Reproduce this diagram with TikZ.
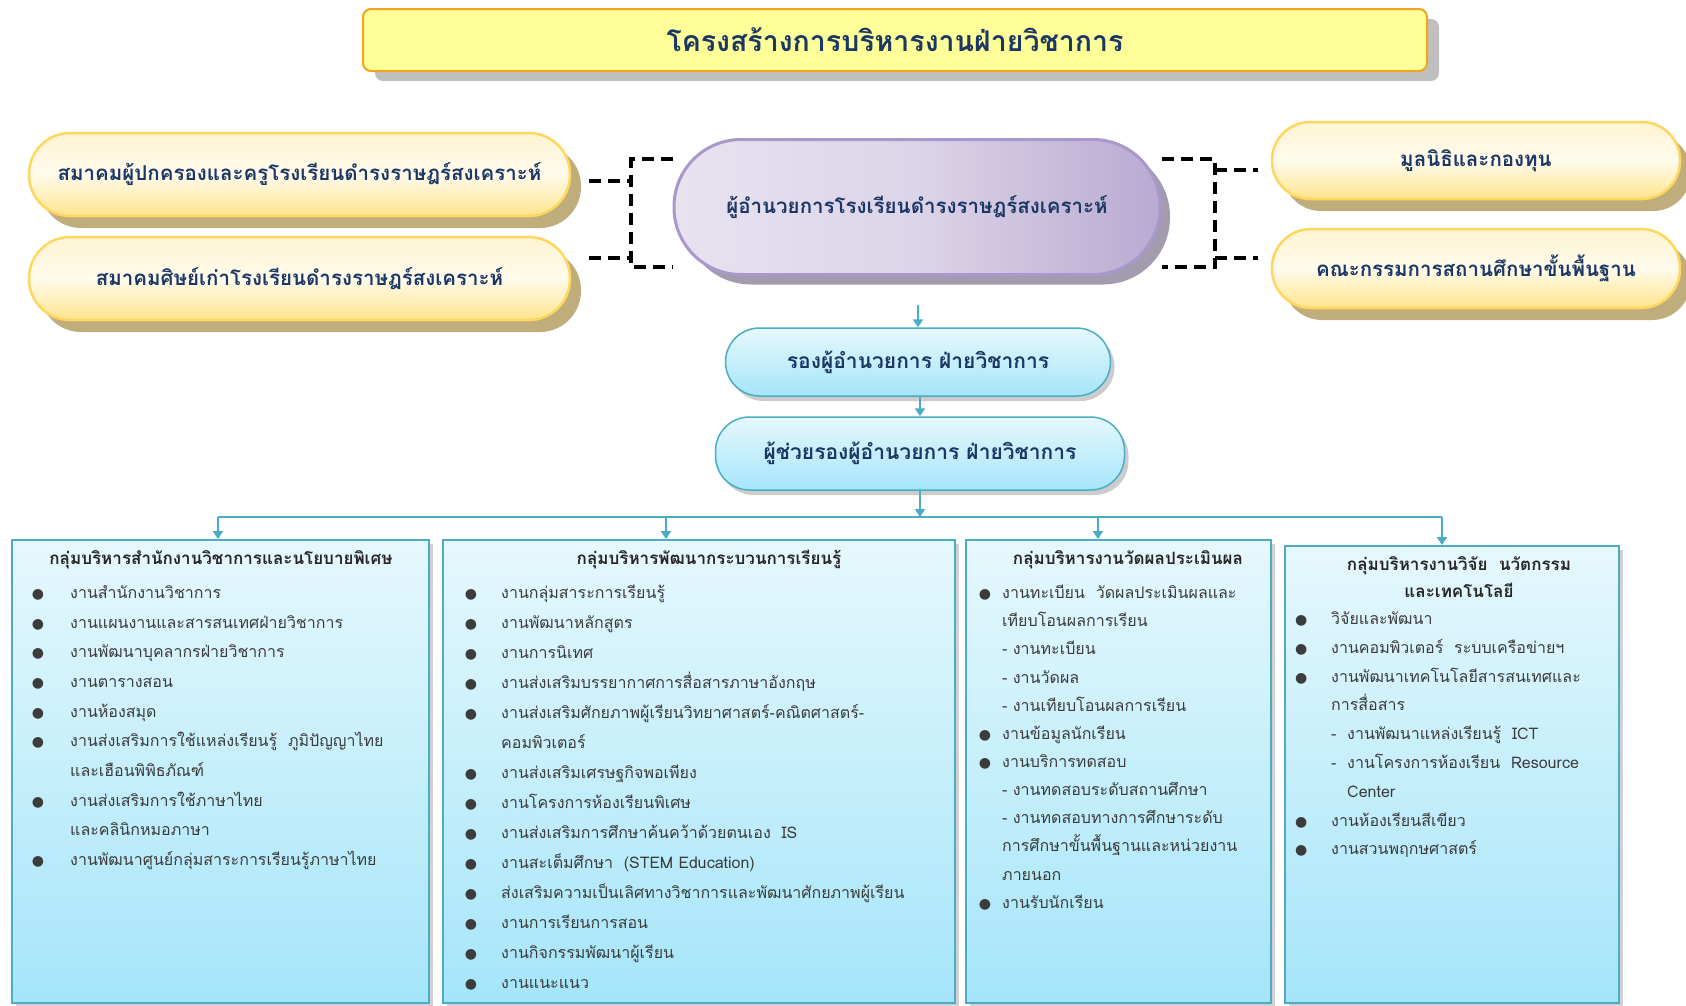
\documentclass[tikz,border=0pt]{standalone}
\usepackage{fontspec}
\setmainfont[Script=Thai]{Loma}
\newfontfamily\bulletfont{DejaVu Sans}
\usetikzlibrary{arrows.meta,shadows}

\definecolor{titlefill}{HTML}{FFFF99}
\definecolor{titleline}{HTML}{F7A21B}
\definecolor{ovaltop}{HTML}{FFF4D2}
\definecolor{ovalmid}{HTML}{FFFBEC}
\definecolor{ovalbot}{HTML}{FFE48C}
\definecolor{ovalline}{HTML}{FFD75E}
\definecolor{ovalshade}{HTML}{BFAE7C}
\definecolor{dirleft}{HTML}{E8E2F0}
\definecolor{dirmid}{HTML}{DCD4E8}
\definecolor{dirright}{HTML}{B9AAD2}
\definecolor{dirline}{HTML}{A998CC}
\definecolor{dirshade}{HTML}{A39BAE}
\definecolor{bluetop}{HTML}{E6F8FD}
\definecolor{bluebot}{HTML}{A5E5F9}
\definecolor{blueline}{HTML}{4BACC6}
\definecolor{navy}{HTML}{1B3763}
\definecolor{itemgray}{HTML}{3C3C3C}

\newcommand{\dotb}[1][25pt]{\llap{{\bulletfont\fontsize{14}{14}\selectfont ●}\hspace{#1}}}

\begin{document}
\begin{tikzpicture}[x=1pt,y=-1pt,
    ttl/.style={draw=titleline, line width=2pt, fill=titlefill, rounded corners=8pt,
      minimum width=1064pt, minimum height=62pt,
      drop shadow={shadow xshift=12pt, shadow yshift=-10pt, fill=black!25, opacity=1},
      text=navy, font=\fontsize{28.5}{32}\selectfont\bfseries},
    helper/.style={draw=ovalline, line width=2.5pt, top color=ovaltop, bottom color=ovalbot,
      middle color=ovalmid, rounded corners=41pt, minimum height=83pt, inner sep=0pt,
      drop shadow={shadow xshift=11pt, shadow yshift=-12pt, fill=ovalshade, opacity=1},
      text=navy, font=\fontsize{20.5}{22}\selectfont\bfseries},
    chief/.style={draw=dirline, line width=3pt, left color=dirleft, right color=dirright,
      middle color=dirmid, rounded corners=67pt, minimum width=486pt, minimum height=135pt,
      drop shadow={shadow xshift=10pt, shadow yshift=-10pt, fill=dirshade, opacity=1},
      text=navy, font=\fontsize{20.5}{22}\selectfont\bfseries},
    dept/.style={draw=blueline, line width=1.5pt, top color=bluetop, bottom color=bluebot,
      rounded corners=34pt,
      drop shadow={shadow xshift=4pt, shadow yshift=-5pt, fill=black!20, opacity=1},
      text=navy, font=\fontsize{21}{22}\selectfont\bfseries},
    grp/.style={draw=blueline, line width=2pt, top color=bluetop, bottom color=bluebot,
      drop shadow={shadow xshift=4pt, shadow yshift=-4pt, fill=black!18, opacity=1}},
    head/.style={inner sep=0pt, align=center, text=black!85,
      font=\fontsize{17}{27}\selectfont\bfseries},
    item/.style={anchor=base west, inner sep=0pt, text=itemgray,
      font=\fontsize{16}{18}\selectfont},
    link/.style={draw=blueline, line width=2.5pt, -{Triangle[width=10pt,length=8pt]}},
    wire/.style={draw=blueline, line width=2.5pt},
    tie/.style={draw=black, line width=4pt, dash pattern=on 12pt off 7pt}]

  \useasboundingbox (0,0) rectangle (1686,1005);

  \node[ttl] (title) at (895,40) {โครงสร้างการบริหารงานฝ่ายวิชาการ};

  \begin{scope}[every node/.style={helper}]
    \node[minimum width=541pt] (pta)  at (299.5,174.5) {สมาคมผู้ปกครองและครูโรงเรียนดำรงราษฎร์สงเคราะห์};
    \node[minimum width=541pt] (alum) at (299.5,278.5) {สมาคมศิษย์เก่าโรงเรียนดำรงราษฎร์สงเคราะห์};
    \node[minimum width=408pt, minimum height=77pt, rounded corners=38pt] (fund)  at (1476,160.5) {มูลนิธิและกองทุน};
    \node[minimum width=408pt, minimum height=79pt, rounded corners=39pt] (board) at (1476,268.5) {คณะกรรมการสถานศึกษาขั้นพื้นฐาน};
  \end{scope}

  \node[chief] (dir) at (917,207) {ผู้อำนวยการโรงเรียนดำรงราษฎร์สงเคราะห์};

  \begin{scope}[every node/.style={dept}]
    \node[minimum width=385pt, minimum height=68pt] (dep) at (918,362)   {รองผู้อำนวยการ ฝ่ายวิชาการ};
    \node[minimum width=409pt, minimum height=73pt] (ast) at (920,453.5) {ผู้ช่วยรองผู้อำนวยการ ฝ่ายวิชาการ};
  \end{scope}

  \begin{scope}[every node/.style={grp}]
    \node[minimum width=417pt, minimum height=463pt] (g1) at (220.5,771.5) {};
    \node[minimum width=512pt, minimum height=463pt] (g2) at (699,771.5)   {};
    \node[minimum width=305pt, minimum height=463pt] (g3) at (1118.5,771.5) {};
    \node[minimum width=334pt, minimum height=457pt] (g4) at (1452,774.5)  {};
  \end{scope}

  \coordinate (lt) at (631,159);
  \coordinate (lb) at (631,267);
  \coordinate (la) at (589,181);
  \coordinate (lc) at (589,258);
  \coordinate (rt) at (1215,159);
  \coordinate (rb) at (1215,267);
  \coordinate (ra) at (1258,170);
  \coordinate (rc) at (1258,258);

  \draw[tie] (dir.west |- lt) -- (lt) -- (lb) -- (dir.west |- lb);
  \draw[tie] (la) -- (la -| lt);
  \draw[tie] (lc) -- (lc -| lt);
  \draw[tie] (dir.east |- rt) -- (rt) -- (rb) -- (dir.east |- rb);
  \draw[tie] (rt |- ra) -- (ra);
  \draw[tie] (rt |- rc) -- (rc);

  \coordinate (bus)  at (920,517);
  \coordinate (busl) at (218,517);
  \coordinate (d2)   at (666,517);
  \coordinate (d3)   at (1098,517);
  \coordinate (busr) at (1442,517);

  \draw[link, shorten <=29pt] (dep.north |- dir.south) -- (dep.north);
  \draw[link] (ast.north |- dep.south) -- (ast.north);
  \draw[link] (ast.south) -- (bus);
  \draw[wire] (busl) -- (busr);
  \draw[link] (busl) -- (busl |- g1.north);
  \draw[link] (d2) -- (d2 |- g2.north);
  \draw[link] (d3) -- (d3 |- g3.north);
  \draw[link] (busr) -- (busr |- g4.north);

  \node[head] (h1) at (221,560)  {กลุ่มบริหารสำนักงานวิชาการและนโยบายพิเศษ};
  \node[head] (h2) at (709,560)  {กลุ่มบริหารพัฒนากระบวนการเรียนรู้};
  \node[head] (h3) at (1128,560) {กลุ่มบริหารงานวัดผลประเมินผล};
  \node[head] (h4) at (1459,577) {กลุ่มบริหารงานวิจัย\ \ นวัตกรรม\\และเทคโนโลยี};

  \foreach \t [count=\i from 0] in {
      {\dotb[26pt]งานสำนักงานวิชาการ},
      {\dotb[26pt]งานแผนงานและสารสนเทศฝ่ายวิชาการ},
      {\dotb[26pt]งานพัฒนาบุคลากรฝ่ายวิชาการ},
      {\dotb[26pt]งานตารางสอน},
      {\dotb[26pt]งานห้องสมุด},
      {\dotb[26pt]งานส่งเสริมการใช้แหล่งเรียนรู้\ \ ภูมิปัญญาไทย},
      {และเฮือนพิพิธภัณฑ์},
      {\dotb[26pt]งานส่งเสริมการใช้ภาษาไทย},
      {และคลินิกหมอภาษา},
      {\dotb[26pt]งานพัฒนาศูนย์กลุ่มสาระการเรียนรู้ภาษาไทย}}
    \node[item] (a\i) at (70,598.6+29.63*\i) {\t};

  \foreach \t [count=\i from 0] in {
      {\dotb[24pt]งานกลุ่มสาระการเรียนรู้},
      {\dotb[24pt]งานพัฒนาหลักสูตร},
      {\dotb[24pt]งานการนิเทศ},
      {\dotb[24pt]งานส่งเสริมบรรยากาศการสื่อสารภาษาอังกฤษ},
      {\dotb[24pt]งานส่งเสริมศักยภาพผู้เรียนวิทยาศาสตร์-คณิตศาสตร์-},
      {คอมพิวเตอร์},
      {\dotb[24pt]งานส่งเสริมเศรษฐกิจพอเพียง},
      {\dotb[24pt]งานโครงการห้องเรียนพิเศษ},
      {\dotb[24pt]งานส่งเสริมการศึกษาค้นคว้าด้วยตนเอง\ \ IS},
      {\dotb[24pt]งานสะเต็มศึกษา\ \ (STEM Education)},
      {\dotb[24pt]ส่งเสริมความเป็นเลิศทางวิชาการและพัฒนาศักยภาพผู้เรียน},
      {\dotb[24pt]งานการเรียนการสอน},
      {\dotb[24pt]งานกิจกรรมพัฒนาผู้เรียน},
      {\dotb[24pt]งานแนะแนว}}
    \node[item] (b\i) at (501,598.6+30*\i) {\t};

  \foreach \t [count=\i from 0] in {
      {\dotb[11pt]งานทะเบียน\ \ วัดผลประเมินผลและ},
      {เทียบโอนผลการเรียน},
      {- งานทะเบียน},
      {- งานวัดผล},
      {- งานเทียบโอนผลการเรียน},
      {\dotb[11pt]งานข้อมูลนักเรียน},
      {\dotb[11pt]งานบริการทดสอบ},
      {- งานทดสอบระดับสถานศึกษา},
      {- งานทดสอบทางการศึกษาระดับ},
      {การศึกษาขั้นพื้นฐานและหน่วยงาน},
      {ภายนอก},
      {\dotb[11pt]งานรับนักเรียน}}
    \node[item] (c\i) at (1002,598.6+28.15*\i) {\t};

  \foreach \t [count=\i from 0] in {
      {\dotb[24pt]วิจัยและพัฒนา},
      {\dotb[24pt]งานคอมพิวเตอร์\ \ ระบบเครือข่ายฯ},
      {\dotb[24pt]งานพัฒนาเทคโนโลยีสารสนเทศและ},
      {การสื่อสาร},
      {\makebox[16pt][l]{-}งานพัฒนาแหล่งเรียนรู้\ \ ICT},
      {\makebox[16pt][l]{-}งานโครงการห้องเรียน\ \ Resource},
      {\hspace*{16pt}Center},
      {\dotb[24pt]งานห้องเรียนสีเขียว},
      {\dotb[24pt]งานสวนพฤกษศาสตร์}}
    \node[item] (d\i) at (1331,624.4+28.8*\i) {\t};

\end{tikzpicture}
\end{document}
